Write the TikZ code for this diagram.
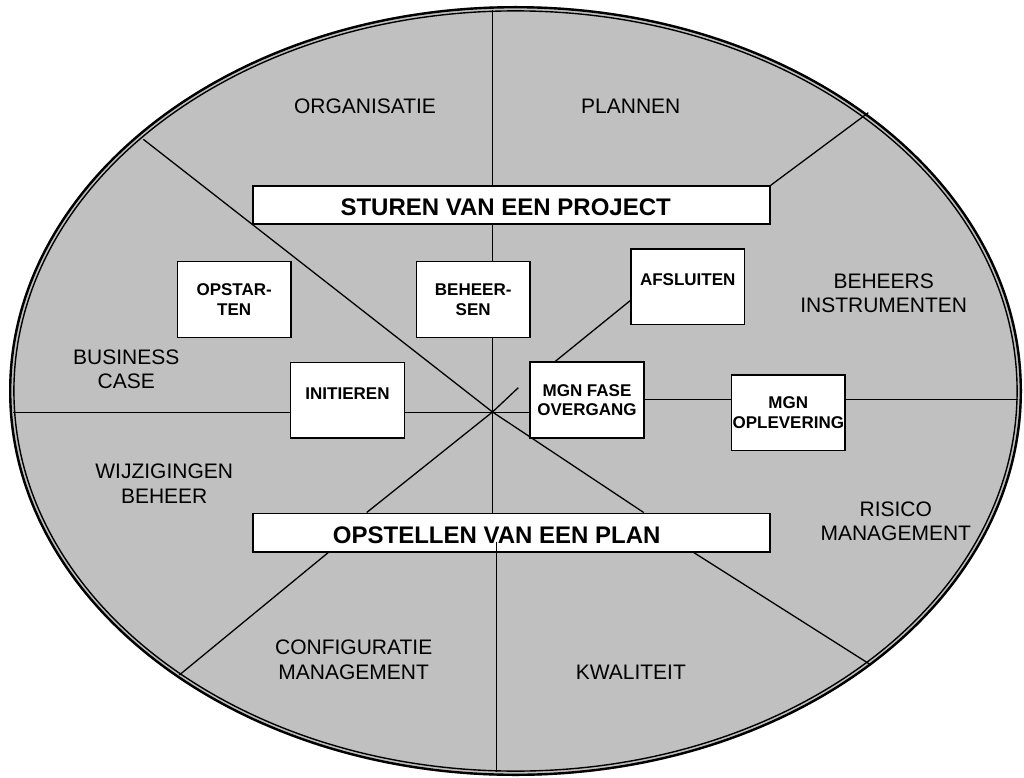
\documentclass[tikz,border=0pt]{standalone}
\usepackage{fontspec}
\setmainfont{Liberation Sans}
\usetikzlibrary{backgrounds}
\definecolor{areagray}{RGB}{192,192,192}
\tikzset{
  seg/.style={draw=black, line width=1.3pt},
  procbox/.style={draw=black, fill=white, line width=1.5pt, inner sep=0pt, align=center,
    minimum width=113.7pt, minimum height=75.8pt, font=\bfseries\fontsize{17}{19.5}\selectfont},
  bigbox/.style={draw=black, fill=white, line width=1.5pt, inner sep=0pt, minimum width=517pt},
  bigtext/.style={inner sep=0pt, font=\bfseries\fontsize{24}{28}\selectfont},
  area/.style={inner sep=0pt, align=center, font=\fontsize{21}{24.4}\selectfont},
}
\begin{document}
\begin{tikzpicture}[x=1pt,y=-1pt]
\useasboundingbox (0,0) rectangle (1024,778);

% named points
\coordinate (c) at (492.5,412);
\coordinate (vtop) at (492.5,10);
\coordinate (vbotA) at (496.7,541.5);
\coordinate (vbot) at (496.7,772);
\coordinate (hleft) at (13,412.5);
\coordinate (hright) at (1018,399.3);
\coordinate (ul) at (143.3,139.3);
\coordinate (ur) at (868.3,112.7);
\coordinate (ll) at (179.3,675);
\coordinate (lr) at (871,665);
\coordinate (stub) at (518.3,387.7);
\coordinate (lrA) at (643.7,513.3);
\coordinate (lrB) at (693.7,551.7);
\coordinate (llA) at (366.7,513.3);
\coordinate (llB) at (328.3,551.7);
\coordinate (afA) at (630.7,300.7);
\coordinate (afB) at (555.3,362.3);

% boxes
\node[bigbox, minimum height=38pt] (sturen) at (511.5,205) {};
\node[bigtext] (sturentxt) at (505.7,207.5) {STUREN VAN EEN PROJECT};
\node[bigbox, minimum height=38.5pt] (opstellen) at (511.5,532.5) {};
\node[bigtext] (opstellentxt) at (496.7,535) {OPSTELLEN VAN EEN PLAN};

\node[procbox] (opstarten) at (234.2,299.5) {OPSTAR-\\TEN};
\node[procbox] (beheersen) at (473.2,299.5) {BEHEER-\\SEN};
\node[procbox] (initieren) at (347.5,400.3) {INITIEREN\\[-6pt]\mbox{}};
\node[procbox] (afsluiten) at (687.7,286.7) {AFSLUITEN\\[-6pt]\mbox{}};
\node[procbox] (mgnfase) at (587,400) {MGN FASE\\OVERGANG};
\node[procbox] (mgnopl) at (788.3,412.8) {MGN\\OPLEVERING};

% area labels
\node[area] (organisatie) at (365,105.8) {ORGANISATIE};
\node[area] (plannen) at (630.8,105.8) {PLANNEN};
\node[area] (beheers) at (883.7,293.5) {BEHEERS\\INSTRUMENTEN};
\node[area] (business) at (126.2,369.3) {BUSINESS\\CASE};
\node[area] (wijzigingen) at (164.2,483.6) {WIJZIGINGEN\\BEHEER};
\node[area] (risico) at (895.8,521.3) {RISICO\\MANAGEMENT};
\node[area] (configuratie) at (353.7,659.8) {CONFIGURATIE\\MANAGEMENT};
\node[area] (kwaliteit) at (630.8,672.5) {KWALITEIT};

\begin{pgfonlayer}{background}
  \fill[areagray] (515.5,391) ellipse [x radius=506.5pt, y radius=385pt];
  \draw[line width=2.4pt] (515.5,391) ellipse [x radius=505.3pt, y radius=383.8pt];
  \draw[line width=1.4pt] (515.5,391) ellipse [x radius=501.6pt, y radius=380.1pt];
  % vertical
  \draw[seg] (vtop) -- (vtop |- sturen.north);
  \draw[seg] (vtop |- sturen.south) -- (vtop |- beheersen.north);
  \draw[seg] (vtop |- beheersen.south) -- (vtop |- opstellen.north);
  % horizontal
  \draw[seg] (hleft) -- (initieren.west |- hleft);
  \draw[seg] (initieren.east |- hleft) -- (mgnfase.west |- hleft);
  \draw[seg] (mgnfase.east |- hright) -- (mgnopl.west |- hright);
  \draw[seg] (mgnopl.east |- hright) -- (hright);
  % diagonals
  \draw[seg] (ul) -- (c);
  \draw[seg] (c) -- (lrA |- opstellen.north);
  \draw[seg] (lrB |- opstellen.south) -- (lr);
  \draw[seg] (ur) -- (sturen.north east);
  \draw[seg] (afsluiten.west |- afA) -- (afB |- mgnfase.north);
  \draw[seg] (c) -- (stub);
  \draw[seg] (c) -- (llA |- opstellen.north);
  \draw[seg] (llB |- opstellen.south) -- (ll);
\end{pgfonlayer}

\draw[seg] (vbotA) -- (vbot);
\end{tikzpicture}
\end{document}
